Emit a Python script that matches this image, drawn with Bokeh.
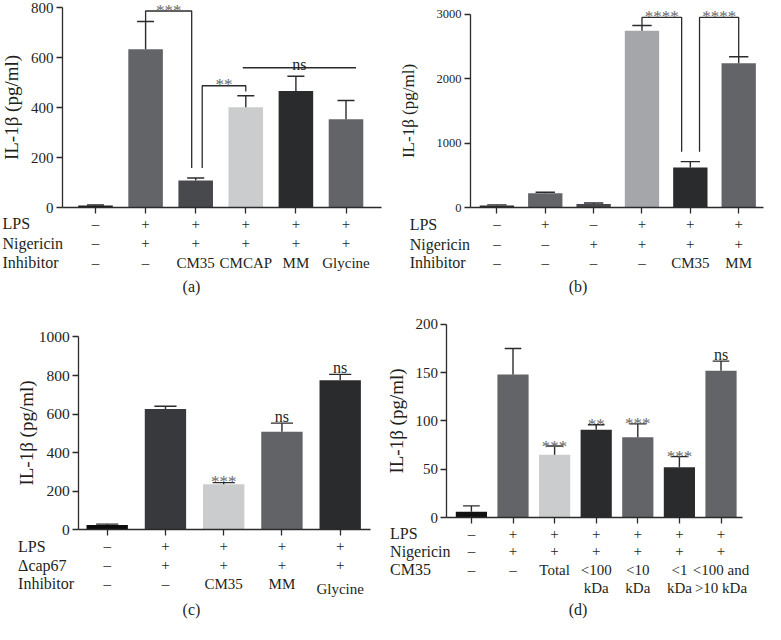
from bokeh.plotting import figure
from bokeh.models import Range1d, FixedTicker, Label
from bokeh.layouts import gridplot
from bokeh.embed import file_html
from bokeh.resources import INLINE

FONT = "Liberation Serif"
TXT = "#231f20"
AX = "#2b2b2b"
STAR = "#6a6a6a"
W, H = 382, 312

# ---------------- data ----------------
# (a)
a_vals = [8, 633, 108, 401, 466, 353]
a_errs = [2, 111, 10, 46, 59, 75]
a_colors = ["#1e1e20", "#636468", "#48494d", "#cbcccd", "#2a2b2d", "#636468"]
a_rows = ["LPS", "Nigericin", "Inhibitor"]
a_table = [["–", "+", "+", "+", "+", "+"],
           ["–", "+", "+", "+", "+", "+"],
           ["–", "–", "CM35", "CMCAP", "MM", "Glycine"]]
a_ticks = [0, 200, 400, 600, 800]

# (b)
b_vals = [30, 222, 55, 2742, 621, 2237]
b_errs = [10, 15, 15, 81, 91, 101]
b_colors = ["#2a2b2d", "#636468", "#48494d", "#a4a6a9", "#2a2b2d", "#636468"]
b_rows = ["LPS", "Nigericin", "Inhibitor"]
b_table = [["–", "+", "–", "+", "+", "+"],
           ["–", "–", "+", "+", "+", "+"],
           ["–", "–", "–", "–", "CM35", "MM"]]
b_ticks = [0, 1000, 2000, 3000]

# (c)
c_vals = [25, 627, 236, 509, 776]
c_errs = [5, 14, 9, 44, 30]
c_colors = ["#0d0d0d", "#38393c", "#cbcccd", "#626367", "#2a2b2d"]
c_sig = ["", "", "***", "ns", "ns"]
c_rows = ["LPS", "Δcap67", "Inhibitor"]
c_table = [["–", "+", "+", "+", "+"],
           ["–", "+", "+", "+", "+"],
           ["–", "–", "CM35", "MM", "Glycine"]]
c_ticks = [0, 200, 400, 600, 800, 1000]

# (d)
d_vals = [6, 148, 65, 91, 83, 52, 152]
d_errs = [6, 27, 9, 5, 14, 11, 10]
d_colors = ["#111111", "#636468", "#cbcccd", "#2a2b2d", "#636468", "#2a2b2d", "#636468"]
d_sig = ["", "", "***", "**", "***", "***", "ns"]
d_rows = ["LPS", "Nigericin", "CM35", ""]
d_table = [["–", "+", "+", "+", "+", "+", "+"],
           ["–", "+", "+", "+", "+", "+", "+"],
           ["–", "–", "Total", "<100", "<10", "<1", "<100 and"],
           ["", "", "", "kDa", "kDa", "kDa", ">10 kDa"]]
d_ticks = [0, 50, 100, 150, 200]

YLABEL = "IL-1β (pg/ml)"
ENTRY_FS = "15px"
NAME_FS = "16px"


class Panel:
    def __init__(self, vals, errs, colors, yticks, bar0_px, step_px, axis_px, right_px,
                 zero_py, unit_px, bar_w, cap_hw, tick_fs, label_fs, label_standoff):
        self.bar0, self.step, self.zero_py = bar0_px, step_px, zero_py
        n = len(vals)
        xs = list(range(n))
        self.xs = xs
        x0 = -bar0_px / step_px
        x1 = (W - bar0_px) / step_px
        y0 = -(H - zero_py) / unit_px
        y1 = zero_py / unit_px
        p = figure(width=W, height=H, x_range=Range1d(x0, x1), y_range=Range1d(y0, y1),
                   output_backend="svg", toolbar_location=None,
                   min_border=0, min_border_left=0, min_border_right=0,
                   min_border_top=0, min_border_bottom=0)
        p.outline_line_color = None
        p.grid.visible = False
        p.background_fill_color = "white"
        p.border_fill_color = "white"
        p.vbar(x=xs, top=vals, bottom=0, width=bar_w, fill_color=colors, line_color=None)
        tops = [v + e for v, e in zip(vals, errs)]
        p.segment(x0=xs, y0=vals, x1=xs, y1=tops, line_color=AX, line_width=1.4)
        p.segment(x0=[x - cap_hw for x in xs], y0=tops, x1=[x + cap_hw for x in xs], y1=tops,
                  line_color=AX, line_width=1.4)
        ax_x = (axis_px - bar0_px) / step_px
        end_x = (right_px - bar0_px) / step_px

        xa = p.xaxis[0]
        xa.fixed_location = 0
        xa.bounds = (ax_x, end_x)
        xa.ticker = FixedTicker(ticks=xs)
        xa.major_label_text_font = FONT
        xa.major_label_text_font_size = ENTRY_FS
        xa.major_label_text_color = TXT
        xa.major_label_standoff = 2
        xa.major_tick_out = 6
        xa.major_tick_in = 0
        xa.minor_tick_out = 0
        xa.minor_tick_in = 0
        xa.axis_line_color = AX
        xa.major_tick_line_color = AX
        xa.axis_line_width = 1.3
        xa.major_tick_line_width = 1.3
        self.xa = xa

        ya = p.yaxis[0]
        ya.fixed_location = ax_x
        ya.ticker = FixedTicker(ticks=yticks)
        ya.bounds = (0, yticks[-1])
        ya.major_tick_out = 6
        ya.major_tick_in = 0
        ya.minor_tick_out = 0
        ya.minor_tick_in = 0
        ya.axis_line_color = AX
        ya.major_tick_line_color = AX
        ya.axis_line_width = 1.3
        ya.major_tick_line_width = 1.3
        ya.major_label_standoff = 3
        ya.major_label_text_font = FONT
        ya.major_label_text_font_size = tick_fs
        ya.major_label_text_color = TXT
        ya.axis_label = YLABEL
        ya.axis_label_text_font = FONT
        ya.axis_label_text_font_style = "normal"
        ya.axis_label_text_font_size = label_fs
        ya.axis_label_text_color = TXT
        ya.axis_label_standoff = label_standoff
        self.p, self.tops = p, tops

    def table(self, row_names, table, offsets, name_px, extra=None):
        extra = extra or {}
        p = self.p
        # first row of the table is drawn as the x-axis tick labels
        self.xa.major_label_overrides = {x: t for x, t in zip(self.xs, table[0])}
        for r, name in enumerate(row_names):
            sy = H - (self.zero_py + offsets[r])
            if name:
                p.add_layout(Label(x=name_px, x_units="screen", y=sy, y_units="screen",
                                   text=name, text_align="left", text_baseline="middle",
                                   text_font=FONT, text_font_size=NAME_FS, text_color=TXT))
            if r == 0:
                continue
            for i, e in enumerate(table[r]):
                if not e:
                    continue
                p.add_layout(Label(x=i, y=sy - extra.get(e, 0), y_units="screen",
                                   text=e, text_align="center", text_baseline="middle",
                                   text_font=FONT, text_font_size=ENTRY_FS, text_color=TXT))

    def caption(self, text, px, py):
        self.p.add_layout(Label(x=px, x_units="screen", y=H - py, y_units="screen", text=text,
                                text_align="center", text_baseline="middle", text_font=FONT,
                                text_font_size="16px", text_color=TXT))

    def bracket(self, x0, x1, y, ya, yb):
        self.p.line([x0, x0, x1, x1], [ya, y, y, yb], line_color=AX, line_width=1.3)

    def sig(self, x, y, text, off):
        col = TXT if text == "ns" else STAR
        fs = "16px" if text == "ns" else "17px"
        self.p.add_layout(Label(x=x, y=y, text=text, text_align="center",
                                text_baseline="alphabetic", y_offset=off, text_font=FONT,
                                text_font_size=fs, text_color=col))


# ---------------- panel a ----------------
A = Panel(a_vals, a_errs, a_colors, a_ticks, 95, 50.1, 62, 381, 207, 200 / 800,
          0.69, 0.17, "15px", "19px", 6)
A.bracket(1, 1.92, 786, A.tops[1], 158)
A.sig(1.46, 786, "***", 1)
A.bracket(2.13, 3, 487, 158, 464)
A.sig(2.565, 487, "**", 1)
A.p.line([2.94, 5.2], [559, 559], line_color=AX, line_width=1.3)
A.sig(4.07, 559, "ns", 3)
A.table(a_rows, a_table, [16.3, 35.8, 55.3], 2)
A.caption("(a)", 191, 285.7)

# ---------------- panel b ----------------
B = Panel(b_vals, b_errs, b_colors, b_ticks, 114.4, 48.36, 88, 381, 207, 193.35 / 3000,
          0.71, 0.2, "12.5px", "17px", 16)
B.bracket(3, 3.82, 2949, B.tops[3], 864)
B.sig(3.41, 2949, "****", 1)
B.bracket(4.19, 5, 2949, 864, B.tops[5])
B.sig(4.6, 2949, "****", 1)
B.table(b_rows, b_table, [17.3, 36.8, 55.3], 27.2)
B.caption("(b)", 195.6, 285.7)

# ---------------- panel c ----------------
C = Panel(c_vals, c_errs, c_colors, c_ticks, 106.7, 58.25, 78.3, 370, 217.4, 193 / 1000,
          0.71, 0.19, "15.5px", "19px", -1)
for i, s in enumerate(c_sig):
    if s:
        C.sig(i, C.tops[i], s, 1 if s != "ns" else 7)
C.table(c_rows, c_table, [16.6, 35.1, 53.6], 17.6, extra={"Glycine": 5})
C.caption("(c)", 191, 297.4)

# ---------------- panel d ----------------
D = Panel(d_vals, d_errs, d_colors, d_ticks, 88.9, 41.6, 64.4, 360, 205, 193.1 / 200,
          0.75, 0.2, "15px", "19px", 5)
for i, s in enumerate(d_sig):
    if s:
        D.sig(i, D.tops[i], s, 0 if s != "ns" else 7)
D.table(d_rows, d_table, [16.3, 33.9, 52.4, 70.9], 7.6)
D.caption("(d)", 195.6, 297.4)

grid = gridplot([[A.p, B.p], [C.p, D.p]], toolbar_location=None)

open("out.html", "w").write(file_html(grid, INLINE))
